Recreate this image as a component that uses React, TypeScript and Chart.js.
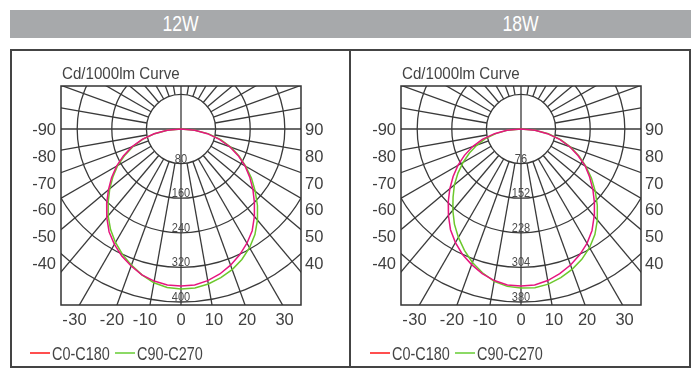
import React, { useEffect, useRef } from "react";
import { Chart, registerables } from "chart.js";

Chart.register(...registerables);

// ---- data ----
const PANEL_TITLES = ["12W", "18W"];
const RING_STEPS = [80, 76]; // cd per ring for each panel
const RING_COUNT = 5;
const ANGLES = [0, 5, 10, 15, 20, 25, 30, 35, 40, 45, 50, 55, 60, 65, 70, 75, 80, 85, 90];
const SERIES_NAMES = ["C0-C180", "C90-C270"];
const SIDE_TICKS_LEFT = ["-90", "-80", "-70", "-60", "-50", "-40"];
const SIDE_TICKS_RIGHT = ["90", "80", "70", "60", "50", "40"];
const BOTTOM_TICKS = [-30, -20, -10, 0, 10, 20, 30];

// 12W (cd/1000lm)
const W12_C0 = [363, 362, 356, 347, 335, 321, 305, 287, 264, 240, 217, 194, 171, 146, 120, 92, 62, 32, 0];
const W12_C180 = [363, 362, 357, 349, 337, 324, 308, 290, 267, 243, 219, 196, 172, 147, 121, 93, 63, 32, 0];
const W12_C90 = [370, 369, 364, 356, 346, 333, 317, 298, 275, 250, 224, 199, 173, 148, 123, 95, 65, 32, 0];
const W12_C270 = [370, 368, 361, 349, 335, 320, 303, 284, 262, 238, 215, 192, 169, 143, 118, 91, 62, 32, 0];

// 18W (cd/1000lm)
const W18_C0 = [345, 344, 338, 329, 318, 305, 290, 272, 250, 228, 206, 184, 163, 138, 114, 88, 59, 31, 0];
const W18_C180 = [345, 344, 338, 329, 317, 304, 288, 270, 248, 226, 204, 182, 160, 137, 113, 88, 59, 31, 0];
const W18_C90 = [351, 350, 346, 338, 328, 316, 301, 283, 261, 237, 213, 189, 165, 141, 116, 90, 61, 31, 0];
const W18_C270 = [349, 347, 340, 327, 312, 294, 275, 255, 233, 211, 191, 169, 147, 125, 103, 81, 55, 29, 0];

const C0_COLOR = "#e6157f";
const C90_COLOR = "#6cc82c";
const LEGEND_COLORS = ["#ff1414", "#66cc33"];
const GRID = "#3a3a3a";
const FONT = '"Liberation Sans", Arial, sans-serif';

function curve(leftHalf: number[], rightHalf: number[]) {
  const pts: { x: number; y: number }[] = [];
  for (let i = ANGLES.length - 1; i >= 0; i--) {
    const a = (ANGLES[i] * Math.PI) / 180;
    pts.push({ x: -leftHalf[i] * Math.sin(a), y: -leftHalf[i] * Math.cos(a) });
  }
  for (let i = 1; i < ANGLES.length; i++) {
    const a = (ANGLES[i] * Math.PI) / 180;
    pts.push({ x: rightHalf[i] * Math.sin(a), y: -rightHalf[i] * Math.cos(a) });
  }
  return pts;
}

function txt(
  ctx: CanvasRenderingContext2D,
  s: string,
  x: number,
  yCenter: number,
  size: number,
  color: string,
  align: CanvasTextAlign,
  sx: number
) {
  ctx.save();
  ctx.font = `${size}px ${FONT}`;
  ctx.fillStyle = color;
  ctx.textAlign = align;
  ctx.textBaseline = "alphabetic";
  ctx.translate(x, yCenter + size * 0.358);
  ctx.scale(sx, 1);
  ctx.fillText(s, 0, 0);
  ctx.restore();
}

const polarPlugin = {
  id: "polarGrid",
  beforeDatasetsDraw(chart: any, _args: any, opts: any) {
    const { ctx, chartArea: a, scales } = chart;
    const xs = scales.x;
    const ys = scales.y;
    const cx = xs.getPixelForValue(0);
    const cy = ys.getPixelForValue(0);
    const step = opts.step;
    const rPer = xs.getPixelForValue(step) - cx;
    ctx.save();
    ctx.beginPath();
    ctx.rect(a.left, a.top, a.right - a.left, a.bottom - a.top);
    ctx.clip();
    ctx.strokeStyle = GRID;
    ctx.lineWidth = 1.3;
    for (let k = 1; k <= RING_COUNT; k++) {
      ctx.beginPath();
      ctx.arc(cx, cy, k * rPer, 0, Math.PI * 2);
      ctx.stroke();
    }
    for (let d = 0; d < 360; d += 10) {
      if (d % 90 === 0) continue;
      const t = (d * Math.PI) / 180;
      ctx.beginPath();
      ctx.moveTo(cx + rPer * Math.sin(t), cy + rPer * Math.cos(t));
      ctx.lineTo(cx + 1000 * Math.sin(t), cy + 1000 * Math.cos(t));
      ctx.stroke();
    }
    ctx.beginPath();
    ctx.moveTo(cx, a.top);
    ctx.lineTo(cx, a.bottom);
    ctx.moveTo(a.left, cy);
    ctx.lineTo(a.right, cy);
    ctx.stroke();
    ctx.restore();

    ctx.save();
    ctx.strokeStyle = "#333";
    ctx.lineWidth = 1.5;
    ctx.strokeRect(a.left, a.top, a.right - a.left, a.bottom - a.top);
    ctx.restore();

    for (let k = 1; k <= RING_COUNT; k++) {
      ctx.save();
      ctx.font = `13px ${FONT}`;
      ctx.fillStyle = "#4a4a4a";
      ctx.textAlign = "center";
      ctx.textBaseline = "alphabetic";
      ctx.translate(cx, cy + k * rPer - 1);
      ctx.scale(0.85, 1);
      ctx.fillText(String(k * step), 0, 0);
      ctx.restore();
    }
  },
  afterDraw(chart: any) {
    const { ctx, chartArea: a, scales } = chart;
    const cx = scales.x.getPixelForValue(0);
    const cy = scales.y.getPixelForValue(0);
    // title
    txt(ctx, "Cd/1000lm Curve", a.left + 1, a.top - 13, 17, "#444", "left", 0.89);
    // side ticks
    const gap = 26.8;
    SIDE_TICKS_LEFT.forEach((t, i) => txt(ctx, t, a.left - 5, cy + i * gap, 16.5, "#404040", "right", 1));
    SIDE_TICKS_RIGHT.forEach((t, i) => txt(ctx, t, a.right + 4, cy + i * gap, 16.5, "#404040", "left", 1));
    // bottom ticks
    const depth = a.bottom - cy;
    BOTTOM_TICKS.forEach((v) => {
      const off = depth * Math.tan((Math.abs(v) * Math.PI) / 180);
      const px = cx + Math.sign(v) * (off + (v === 0 ? 0 : 2));
      const s = String(Math.abs(v));
      txt(ctx, s, px, a.bottom + 14, 16.5, "#404040", "center", 1);
      if (v < 0) {
        ctx.save();
        ctx.font = `16.5px ${FONT}`;
        const w = ctx.measureText(s).width;
        ctx.restore();
        txt(ctx, "-", px - w / 2 - 0.5, a.bottom + 14, 16.5, "#404040", "right", 1);
      }
    });
    // legend
    const ly = a.bottom + 48;
    const items = [
      { x: 20, name: SERIES_NAMES[0], color: LEGEND_COLORS[0] },
      { x: 105, name: SERIES_NAMES[1], color: LEGEND_COLORS[1] },
    ];
    items.forEach((it) => {
      ctx.save();
      ctx.strokeStyle = it.color;
      ctx.lineWidth = 1.5;
      ctx.beginPath();
      ctx.moveTo(it.x, ly);
      ctx.lineTo(it.x + 20, ly);
      ctx.stroke();
      ctx.restore();
      txt(ctx, it.name, it.x + 22, ly, 18.5, "#444", "left", 0.78);
    });
  },
};

function PolarChart(props: {
  step: number;
  c0: number[];
  c180: number[];
  c90: number[];
  c270: number[];
  left: number;
}) {
  const ref = useRef<HTMLCanvasElement | null>(null);
  useEffect(() => {
    if (!ref.current) return;
    const s = props.step;
    const chart = new Chart(ref.current, {
      type: "scatter",
      data: {
        datasets: [
          {
            label: SERIES_NAMES[0],
            data: curve(props.c180, props.c0),
            showLine: true,
            borderColor: C0_COLOR,
            borderWidth: 1.5,
            pointRadius: 0,
            fill: false,
          },
          {
            label: SERIES_NAMES[1],
            data: curve(props.c270, props.c90),
            showLine: true,
            borderColor: C90_COLOR,
            borderWidth: 1.5,
            pointRadius: 0,
            fill: false,
          },
        ],
      },
      options: {
        responsive: false,
        animation: false,
        events: [],
        layout: { padding: { left: 51, top: 36, right: 49, bottom: 63 } },
        scales: {
          x: { type: "linear", display: false, min: -(120 / 34.6) * s, max: (120 / 34.6) * s },
          y: { type: "linear", display: false, min: -(176 / 34.6) * s, max: (43 / 34.6) * s },
        },
        plugins: {
          legend: { display: false },
          tooltip: { enabled: false },
          title: { display: false },
          polarGrid: { step: s },
        } as any,
      },
      plugins: [polarPlugin],
    });
    return () => chart.destroy();
  }, []);
  return (
    <canvas
      ref={ref}
      width={340}
      height={318}
      style={{ position: "absolute", left: props.left, top: 50, width: 340, height: 318 }}
    />
  );
}

export default function App() {
  const headerText: React.CSSProperties = {
    position: "absolute",
    top: 10,
    height: 28,
    width: 340,
    lineHeight: "28px",
    textAlign: "center",
    color: "#ffffff",
    fontFamily: FONT,
    fontSize: 22,
  };
  return (
    <div style={{ position: "fixed", left: 0, top: 0, width: 700, height: 380, background: "#fff", overflow: "hidden" }}>
      <div style={{ position: "absolute", left: 10, top: 10, width: 681, height: 28, background: "#a7a9ab" }} />
      <div style={{ ...headerText, left: 11 }}>
        <span style={{ display: "inline-block", transform: "scaleX(0.8)" }}>{PANEL_TITLES[0]}</span>
      </div>
      <div style={{ ...headerText, left: 351 }}>
        <span style={{ display: "inline-block", transform: "scaleX(0.8)" }}>{PANEL_TITLES[1]}</span>
      </div>
      <PolarChart step={RING_STEPS[0]} c0={W12_C0} c180={W12_C180} c90={W12_C90} c270={W12_C270} left={10} />
      <PolarChart step={RING_STEPS[1]} c0={W18_C0} c180={W18_C180} c90={W18_C90} c270={W18_C270} left={350} />
      <div
        style={{
          position: "absolute",
          left: 10,
          top: 49,
          width: 681,
          height: 319,
          border: "2px solid #444",
          boxSizing: "border-box",
          pointerEvents: "none",
        }}
      />
      <div style={{ position: "absolute", left: 349, top: 49, width: 2, height: 319, background: "#444" }} />
    </div>
  );
}
